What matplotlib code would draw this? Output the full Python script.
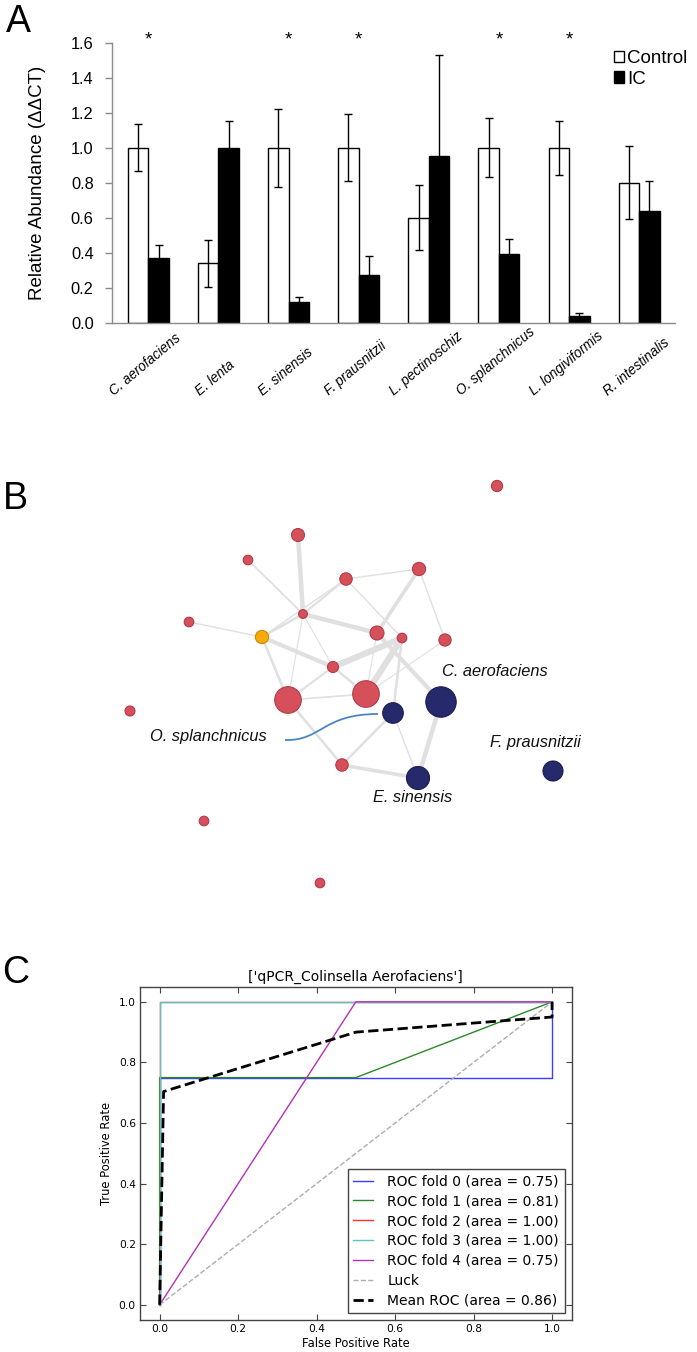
import matplotlib
matplotlib.use("Agg")
import matplotlib.pyplot as plt
import matplotlib.transforms as mtransforms
from matplotlib.patches import PathPatch, Patch
from matplotlib.path import Path
import numpy as np

# ---------------- Panel A data ----------------
species = ["C. aerofaciens", "E. lenta", "E. sinensis", "F. prausnitzii",
           "L. pectinoschiz", "O. splanchnicus", "L. longiviformis", "R. intestinalis"]
control_vals = [1.0, 0.34, 1.0, 1.0, 0.60, 1.0, 1.0, 0.80]
control_err = [0.135, 0.135, 0.222, 0.19, 0.185, 0.168, 0.155, 0.21]
ic_vals = [0.37, 1.0, 0.12, 0.272, 0.952, 0.39, 0.038, 0.636]
ic_err = [0.075, 0.15, 0.029, 0.112, 0.575, 0.088, 0.017, 0.174]
significant = [True, False, True, True, False, True, True, False]
yticks_A = [0.0, 0.2, 0.4, 0.6, 0.8, 1.0, 1.2, 1.4, 1.6]

# ---------------- Panel B data (network layout coordinates) ----------------
node_x = [497, 298, 248, 346, 419, 303, 189, 262, 377, 402, 445, 333, 288, 366, 393, 441, 130, 553, 342, 418, 204, 320]
node_y = [486, 535, 560, 579, 569, 614, 622, 637, 633, 638, 640, 667, 700, 694, 713, 702, 711, 771, 765, 778, 821, 883]
node_r = [5.6, 6.5, 4.8, 6.2, 6.6, 4.4, 4.8, 6.6, 7.0, 4.8, 6.1, 5.5, 13.3, 13.3, 10.3, 15.2, 5.0, 10.0, 6.2, 11.5, 4.8, 4.8]
node_group = ["r", "r", "r", "r", "r", "r", "r", "o", "r", "r", "r", "r", "r", "r", "n", "n", "r", "n", "r", "n", "r", "r"]
edges = [(1, 5, 3.2), (2, 5, 1.3), (3, 5, 1.6), (7, 3, 1.0), (3, 4, 1.0), (3, 9, 1.0),
         (4, 8, 2.6), (4, 10, 1.0), (5, 7, 1.8), (5, 8, 3.2), (5, 11, 0.8),
         (5, 12, 0.8), (6, 7, 1.0), (7, 11, 3.0), (7, 12, 1.8), (11, 9, 4.5),
         (13, 9, 4.5), (11, 13, 1.8), (11, 12, 1.5), (12, 13, 1.2), (12, 18, 1.8),
         (8, 13, 0.8), (8, 15, 3.0), (10, 13, 0.8), (9, 14, 1.8), (14, 18, 1.8),
         (14, 19, 1.0), (15, 19, 3.2), (18, 19, 2.6)]
net_labels = ["C. aerofaciens", "O. splanchnicus", "F. prausnitzii", "E. sinensis"]
net_label_x = [442, 150, 490, 373]
net_label_y = [672, 737, 743, 797]

# ---------------- Panel C data ----------------
fold_fpr = [[0.0, 0.0, 1.0, 1.0],
            [0.0, 0.0, 0.5, 1.0],
            [0.0, 0.0, 1.0],
            [0.0, 0.0, 1.0],
            [0.0, 0.5, 1.0]]
fold_tpr = [[0.0, 0.75, 0.75, 1.0],
            [0.0, 0.75, 0.75, 1.0],
            [0.0, 1.0, 1.0],
            [0.0, 1.0, 1.0],
            [0.0, 1.0, 1.0]]
fold_auc = [0.75, 0.81, 1.00, 1.00, 0.75]
fold_colors = ["#3c3cff", "#2a8a2a", "#ff3030", "#5cc4c4", "#b530b5"]
mean_fpr = [0.0, 0.0101, 0.5, 1.0, 1.0]
mean_tpr = [0.0, 0.704, 0.90, 0.95, 1.0]
mean_auc = 0.86
ticks_C = [0.0, 0.2, 0.4, 0.6, 0.8, 1.0]

W, H = 697, 1352
fig = plt.figure(figsize=(W / 100, H / 100), dpi=100)
sans = ["Liberation Sans", "DejaVu Sans"]

def fx(px):
    return px / W

def fy(py):
    return 1 - py / H

# ================= Panel A =================
axA = fig.add_axes([fx(111.7), fy(322.7), fx(675 - 111.7), (322.7 - 42.7) / H])
x = np.arange(len(species))
w = 0.292
ekw = dict(ecolor="black", elinewidth=1.0, capsize=3, capthick=1.0)
axA.bar(x - w / 2, control_vals, w, yerr=control_err, color="white",
        edgecolor="black", linewidth=1.0, error_kw=ekw, label="Control")
axA.bar(x + w / 2, ic_vals, w, yerr=ic_err, color="black",
        edgecolor="black", linewidth=1.0, error_kw=ekw, label="IC")
axA.set_xlim(-0.522, 7.51)
axA.set_ylim(0, 1.6)
axA.set_yticks(yticks_A)
axA.set_yticklabels([f"{v:.1f}" for v in yticks_A], family=sans, fontsize=11.8)
axA.set_xticks([])
for s in ["top", "right"]:
    axA.spines[s].set_visible(False)
for s in ["left", "bottom"]:
    axA.spines[s].set_color("#8a8a8a")
    axA.spines[s].set_linewidth(1.0)
axA.tick_params(axis="y", direction="out", length=5, width=1, color="#8a8a8a", pad=8)
trans = mtransforms.blended_transform_factory(axA.transData, axA.transAxes)
for i, name in enumerate(species):
    axA.text(i - 0.04, -0.269, name, transform=trans, rotation=40, ha="center",
             va="bottom", style="italic", family=sans, fontsize=9.8)
    if significant[i]:
        axA.text(i, 1.615, "*", ha="center", va="center", family=sans,
                 fontsize=13.5, clip_on=False)
fig.text(fx(38), fy(183), "Relative Abundance (\u0394\u0394CT)", rotation=90,
         ha="center", va="center", family=sans, fontsize=13.5)
leg_handles = [Patch(facecolor="white", edgecolor="black", linewidth=1.0),
               Patch(facecolor="black", edgecolor="black", linewidth=1.0)]
axA.legend(leg_handles, ["Control", "IC"], loc="upper left",
           bbox_to_anchor=(fx(614), fy(50)), bbox_transform=fig.transFigure,
           frameon=False, handlelength=0.55, handleheight=0.55, handletextpad=0.15,
           labelspacing=0.2, borderpad=0, borderaxespad=0,
           prop={"family": sans, "size": 13.5})

# ================= Panel B =================
axB = fig.add_axes([0, fy(940), 1, 500 / H])
axB.set_xlim(0, W)
axB.set_ylim(940, 440)
axB.axis("off")
for a, b, lw in edges:
    axB.plot([node_x[a], node_x[b]], [node_y[a], node_y[b]], color="#e0e0e0",
             lw=lw, solid_capstyle="round", zorder=1)
fill = {"r": "#d6505c", "n": "#26296b", "o": "#f8aa0c"}
edge = {"r": "#b23a46", "n": "#1a1c4e", "o": "#c98a00"}
sizes = [(2 * r * 0.72) ** 2 for r in node_r]
axB.scatter(node_x, node_y, s=sizes, c=[fill[g] for g in node_group],
            edgecolors=[edge[g] for g in node_group], linewidths=0.8, zorder=3)
verts = [(285, 740), (322, 741), (322, 714), (378, 714)]
path = Path(verts, [Path.MOVETO, Path.CURVE4, Path.CURVE4, Path.CURVE4])
axB.add_patch(PathPatch(path, facecolor="none", edgecolor="#4a84c8", lw=1.3, zorder=2))
for t, lx, ly in zip(net_labels, net_label_x, net_label_y):
    axB.text(lx, ly, t, ha="left", va="center", style="italic", family=sans,
             fontsize=11.8, color="#111111", zorder=4)

# ================= Panel C =================
axC = fig.add_axes([fx(140), fy(1320), fx(571.7 - 140), (1320 - 986.7) / H])
for k in range(len(fold_fpr)):
    axC.plot(fold_fpr[k], fold_tpr[k], color=fold_colors[k], lw=1.0,
             label=f"ROC fold {k} (area = {fold_auc[k]:.2f})")
axC.plot([0, 1], [0, 1], "--", color=(0.68, 0.68, 0.68), lw=1.0, label="Luck")
axC.plot(mean_fpr, mean_tpr, "k--", lw=2.0, label=f"Mean ROC (area = {mean_auc:.2f})")
axC.set_xlim(-0.05, 1.05)
axC.set_ylim(-0.05, 1.05)
axC.set_xticks(ticks_C)
axC.set_yticks(ticks_C)
axC.set_xticklabels([f"{v:.1f}" for v in ticks_C], fontsize=7.7, family="DejaVu Sans")
axC.set_yticklabels([f"{v:.1f}" for v in ticks_C], fontsize=7.7, family="DejaVu Sans")
axC.tick_params(direction="in", top=True, right=True, length=4, width=0.8,
                color="#444444", pad=3)
for s in axC.spines.values():
    s.set_color("#444444")
    s.set_linewidth(1.0)
axC.set_xlabel("False Positive Rate", fontsize=8.3, family="DejaVu Sans", labelpad=2)
axC.set_ylabel("True Positive Rate", fontsize=8.3, family="DejaVu Sans", labelpad=4)
axC.set_title("['qPCR_Colinsella Aerofaciens']", fontsize=10, family="DejaVu Sans", pad=4)
lg = axC.legend(loc="lower right", fancybox=False, framealpha=1,
                edgecolor="#444444", handlelength=1.45, handletextpad=1.0,
                borderaxespad=0.5, labelspacing=0.42,
                prop={"family": "DejaVu Sans", "size": 10})
lg.get_frame().set_linewidth(1.0)

# panel letters
fig.text(fx(6), fy(4), "A", ha="left", va="top", family=sans, fontsize=27)
fig.text(fx(3), fy(481), "B", ha="left", va="top", family=sans, fontsize=27)
fig.text(fx(2), fy(955), "C", ha="left", va="top", family=sans, fontsize=27)

fig.savefig("out.png", dpi=100)
